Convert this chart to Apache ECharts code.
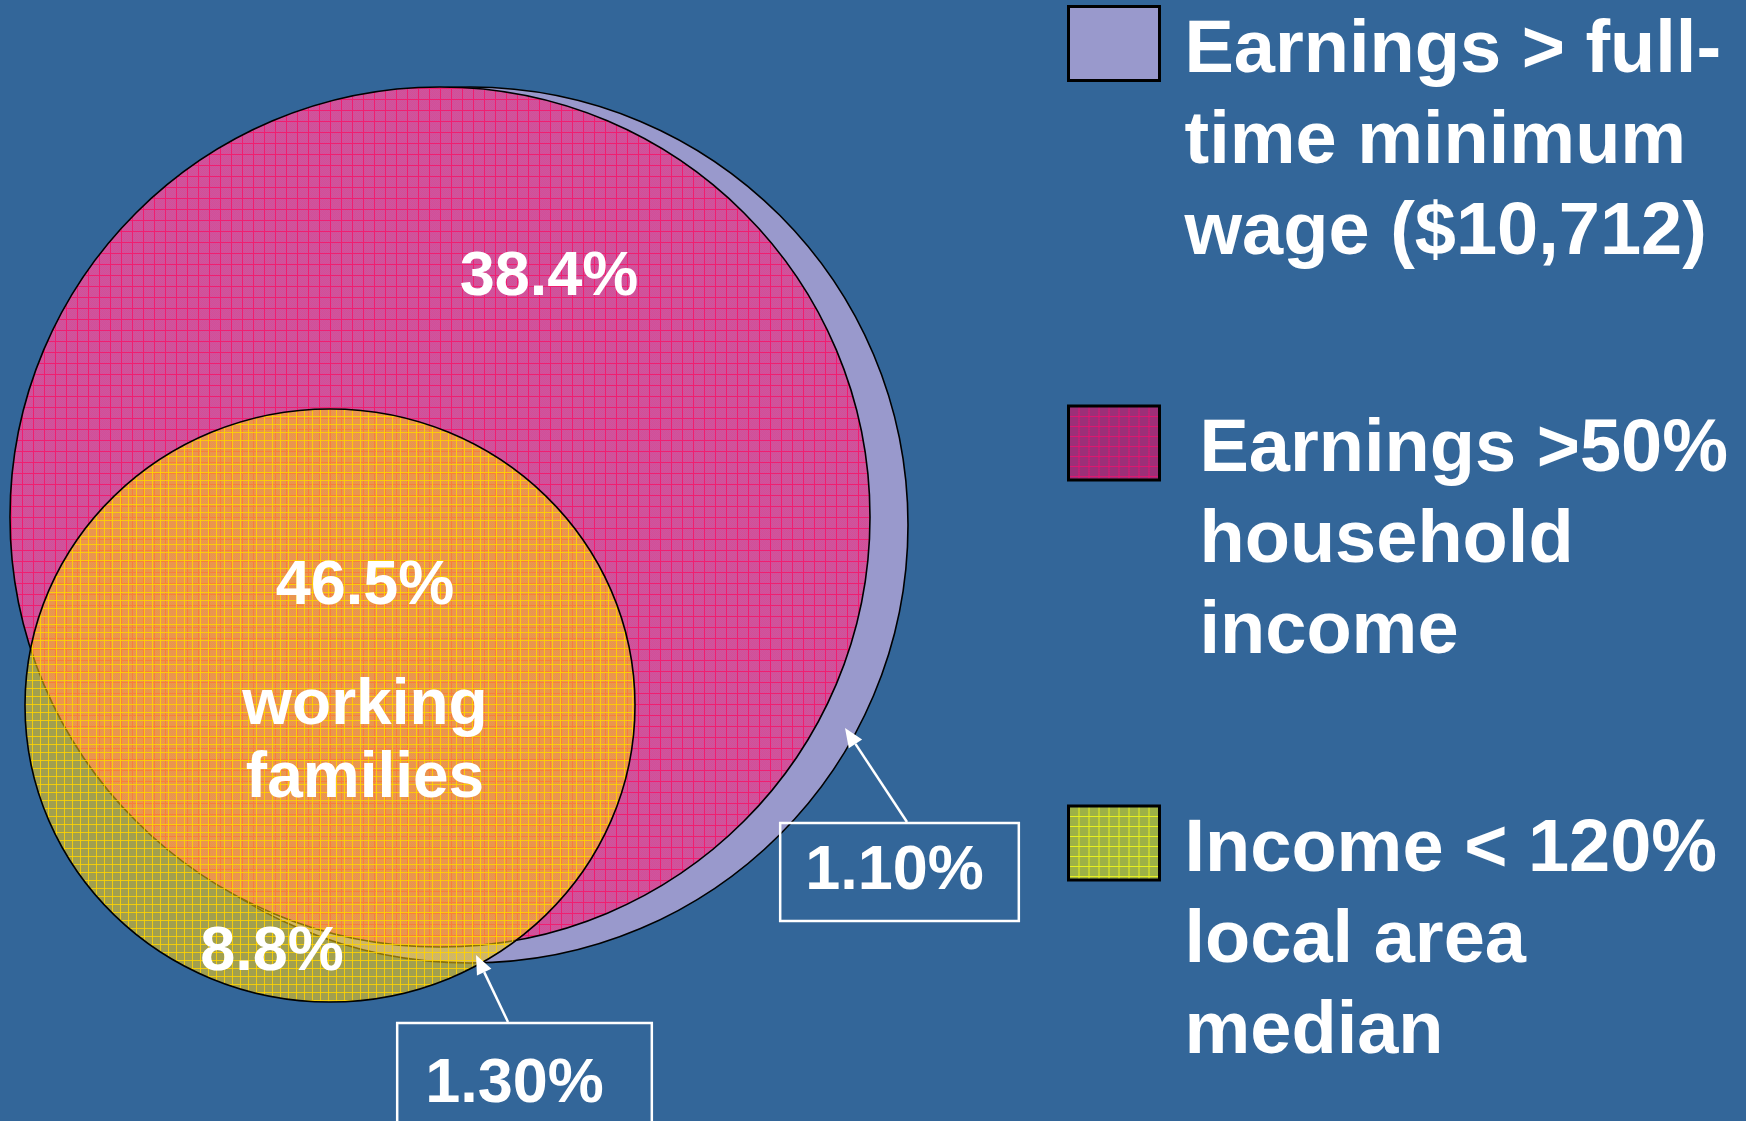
<!DOCTYPE html>
<html>
<head>
<meta charset="utf-8">
<script src="https://cdn.jsdelivr.net/npm/echarts@6/dist/echarts.min.js"></script>
<style>
html,body{margin:0;padding:0;background:#336699;}
#chart{width:1746px;height:1121px;}
</style>
</head>
<body>
<div id="chart"></div>
<script>
// ---------------- data ----------------
const categories = [
  'Earnings > full-time minimum wage ($10,712)',
  'Earnings >50% household income',
  'Income < 120% local area median'
];
const legendLines = [
  ['Earnings > full-', 'time minimum', 'wage ($10,712)'],
  ['Earnings >50%', 'household', 'income'],
  ['Income < 120%', 'local area', 'median']
];
// set outlines (chart units; x to the right, y downward): centre, radius x, radius y
const circleCX = [47.0, 44.0, 33.0];
const circleCY = [52.5, 51.7, 70.55];
const circleRX = [43.8, 43.0, 30.5];
const circleRY = [43.8, 43.0, 29.65];

// region shares (%)
const regionValues = [38.4, 46.5, 8.8, 1.10, 1.30];
const regionText   = ['38.4%', '46.5%', '8.8%', '1.10%', '1.30%'];
const regionBoxed  = [false, false, false, true, true];
const regionLabelX = [54.9, 36.5, 27.2, 89.95, 52.45];
const regionLabelY = [27.8, 58.7, 95.3, 87.2, 108.43];
const noteText = ['working', 'families'];
const noteX = 36.5, noteY = 74.25;

// callout arrows (tail -> tip)
const arrowTailX = [90.7, 50.8];
const arrowTailY = [82.2, 102.2];
const arrowTipX  = [84.5, 47.6];
const arrowTipY  = [72.8, 95.5];

// ---------------- styles ----------------
function makePattern(size, base, line, lineW, dither) {
  const c = document.createElement('canvas');
  c.width = size; c.height = size;
  const g = c.getContext('2d');
  g.fillStyle = base; g.fillRect(0, 0, size, size);
  if (dither) {
    g.fillStyle = dither;
    for (let y = 0; y < size; y++) for (let x = 0; x < size; x++) {
      if ((x + y) % 2 === 0) g.fillRect(x, y, 1, 1);
    }
  }
  g.fillStyle = line;
  g.fillRect(0, 0, size, lineW);
  g.fillRect(0, 0, lineW, size);
  return { image: c, repeat: 'repeat' };
}
const circleFill = [
  '#9999CC',
  makePattern(11, 'rgb(212,78,150)', 'rgb(240,30,112)', 1, 'rgba(200,90,165,0.6)'),
  makePattern(8, 'rgba(255,211,15,0.53)', 'rgba(255,212,0,0.85)', 1, 'rgba(255,150,40,0.06)')
];
const legendFill = [
  '#9999CC',
  makePattern(10, 'rgb(150,48,118)', 'rgb(222,22,112)', 1, 'rgba(170,45,125,0.6)'),
  makePattern(10, 'rgb(160,180,66)', 'rgb(232,240,30)', 1, 'rgba(150,170,80,0.6)')
];
const legendTop = [-192, 207.5, 607.5];
const legendIndent = [20, 35, 20];
const FONT = '"Liberation Sans", Arial, sans-serif';

const chart = echarts.init(document.getElementById('chart'));

const circleSeries = categories.map((name, i) => ({
  type: 'custom',
  name: name,
  coordinateSystem: 'cartesian2d',
  z: 1 + i,
  silent: true,
  itemStyle: { color: legendFill[i] },
  data: [[circleCX[i], circleCY[i], circleRX[i], circleRY[i]]],
  renderItem: function (params, api) {
    const c = api.coord([api.value(0), api.value(1)]);
    const s = api.size([api.value(2), api.value(3)]);
    return {
      type: 'ellipse',
      shape: { cx: c[0], cy: c[1], rx: s[0], ry: s[1] },
      style: { fill: circleFill[i], stroke: '#000', lineWidth: 1.6 }
    };
  }
}));

const labelSeries = {
  type: 'custom',
  name: 'region shares',
  coordinateSystem: 'cartesian2d',
  z: 10,
  silent: true,
  data: regionValues.map((v, i) => [regionLabelX[i], regionLabelY[i], v, i]),
  renderItem: function (params, api) {
    const i = api.value(3);
    const p = api.coord([api.value(0), api.value(1)]);
    const style = {
      text: regionText[i], fill: '#fff',
      font: 'bold 63px ' + FONT, lineHeight: 63,
      align: 'center', verticalAlign: 'middle'
    };
    if (regionBoxed[i]) {
      style.borderColor = '#fff';
      style.borderWidth = 2.5;
      style.padding = i === 3 ? [17, 35, 18, 25] : [19.5, 48, 40, 28];
    }
    return { type: 'text', x: p[0], y: p[1], style: style };
  }
};

const noteSeries = {
  type: 'custom',
  name: 'note',
  coordinateSystem: 'cartesian2d',
  z: 10,
  silent: true,
  data: [[noteX, noteY]],
  renderItem: function (params, api) {
    const p = api.coord([api.value(0), api.value(1)]);
    return {
      type: 'text', x: p[0], y: p[1],
      style: {
        text: noteText.join('\n'), fill: '#fff',
        font: 'bold 64px ' + FONT, lineHeight: 73,
        align: 'center', verticalAlign: 'middle'
      }
    };
  }
};

const arrowSeries = {
  type: 'custom',
  name: 'callouts',
  coordinateSystem: 'cartesian2d',
  z: 9,
  silent: true,
  data: arrowTailX.map((x, i) => [x, arrowTailY[i], arrowTipX[i], arrowTipY[i]]),
  renderItem: function (params, api) {
    const a = api.coord([api.value(0), api.value(1)]);
    const b = api.coord([api.value(2), api.value(3)]);
    const dx = b[0] - a[0], dy = b[1] - a[1];
    const len = Math.sqrt(dx * dx + dy * dy);
    const ux = dx / len, uy = dy / len;
    const hl = 19, hw = 8;
    const bx = b[0] - ux * hl, by = b[1] - uy * hl;
    return {
      type: 'group',
      children: [
        { type: 'line', shape: { x1: a[0], y1: a[1], x2: bx, y2: by },
          style: { stroke: '#fff', lineWidth: 2.5 } },
        { type: 'polygon', shape: { points: [[b[0], b[1]], [bx - uy * hw, by + ux * hw], [bx + uy * hw, by - ux * hw]] },
          style: { fill: '#fff' } }
      ]
    };
  }
};

const option = {
  animation: false,
  backgroundColor: '#336699',
  grid: { left: 0, right: 0, top: 0, bottom: 0 },
  xAxis: { type: 'value', min: 0, max: 174.6, show: false },
  yAxis: { type: 'value', min: 0, max: 112.1, inverse: true, show: false },
  legend: categories.map((name, i) => ({
    data: [{ name: name, itemStyle: { color: legendFill[i], borderColor: '#000', borderWidth: 3 } }],
    left: 1067,
    top: legendTop[i],
    padding: 0,
    orient: 'vertical',
    icon: 'rect',
    itemWidth: 91,
    itemHeight: 74,
    selectedMode: false,
    formatter: function () { return legendLines[i].map(s => '{t|' + s + '}').join('\n'); },
    textStyle: {
      color: '#fff', fontSize: 74, fontWeight: 'bold', fontFamily: FONT,
      lineHeight: 91, padding: [198, 0, 0, legendIndent[i]],
      rich: {
        t: { color: '#fff', fontSize: 74, fontWeight: 'bold', fontFamily: FONT, lineHeight: 91 }
      }
    }
  })),
  series: circleSeries.concat([arrowSeries, labelSeries, noteSeries])
};
chart.setOption(option);
</script>
</body>
</html>
